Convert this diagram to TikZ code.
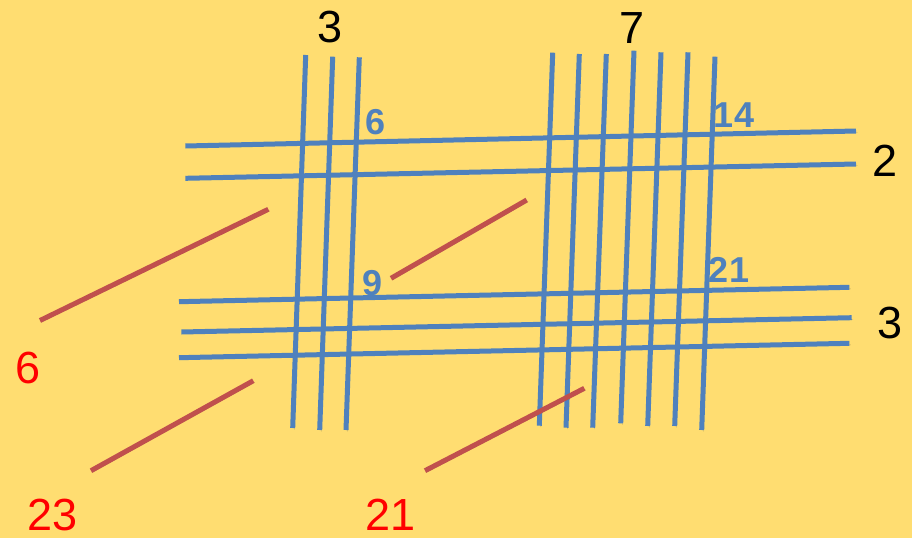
\documentclass[tikz,border=0pt]{standalone}
\usepackage{fontspec}
\setmainfont{Liberation Sans}
\definecolor{bg}{RGB}{255,221,113}
\definecolor{lblue}{RGB}{79,129,189}
\definecolor{lred}{RGB}{192,80,77}
\definecolor{tred}{RGB}{255,0,0}
\tikzset{
  shadowed/.style={preaction={draw=black!70!bg,opacity=0.35,transform canvas={shift={(1.5pt,-1.5pt)}}}},
  blueline/.style={draw=lblue,line width=5pt,shadowed},
  redline/.style={draw=lred,line width=5pt,shadowed},
  bignum/.style={inner sep=0pt,font=\fontsize{45}{50}\selectfont,text=black},
  rednum/.style={inner sep=0pt,font=\fontsize{45}{50}\selectfont,text=tred},
  bluenum/.style={inner sep=0pt,font=\fontsize{36}{40}\selectfont\bfseries,text=lblue}
}
\begin{document}
\begin{tikzpicture}[x=1pt,y=-1pt]
\fill[bg] (0,0) rectangle (912,538);
\useasboundingbox (0,0) rectangle (912,538);
% left vertical group
\draw[blueline] (305.7,55) -- (292.7,428);
\draw[blueline] (332.7,56.7) -- (319.7,430);
\draw[blueline] (359.3,57.3) -- (346,430);
% right vertical group
\draw[blueline] (552.7,52.7) -- (539.3,425.7);
\draw[blueline] (579.3,54) -- (566,427.7);
\draw[blueline] (606.3,54) -- (592.7,427.7);
\draw[blueline] (634,50.7) -- (620.7,423.3);
\draw[blueline] (661,52.3) -- (647.7,426);
\draw[blueline] (688,52.3) -- (674.7,426);
\draw[blueline] (715,56.7) -- (701.7,430);
% horizontal lines
\draw[blueline] (185.3,146) -- (856,131);
\draw[blueline] (185.3,178.3) -- (856,164);
\draw[blueline] (179,301.7) -- (849.3,287.3);
\draw[blueline] (181.3,332) -- (851.7,317.7);
\draw[blueline] (179,357.7) -- (849.3,343.3);
% red diagonals
\draw[redline] (40,320.5) -- (268.3,209.3);
\draw[redline] (91,470.7) -- (253.3,380.7);
\draw[redline] (391,278.3) -- (526.7,200);
\draw[redline] (425,470.7) -- (584.3,388.3);
% black labels
\node[bignum] (ta) at (330,27) {3};
\node[bignum] (tb) at (632,28) {7};
\node[bignum] (ra) at (885,161) {2};
\node[bignum] (rb) at (889.5,323) {3};
% blue labels
\node[bluenum] (b6) at (375.5,121.7) {6};
\node[bluenum] (b14) at (734,115) {14};
\node[bluenum] (b9) at (373,283) {9};
\node[bluenum] (b21) at (729,269.7) {21};
% red labels
\node[rednum] (r6) at (28,368.5) {6};
\node[rednum] (r23) at (52.5,515) {23};
\node[rednum] (r21) at (390.5,515) {21};
\end{tikzpicture}
\end{document}
